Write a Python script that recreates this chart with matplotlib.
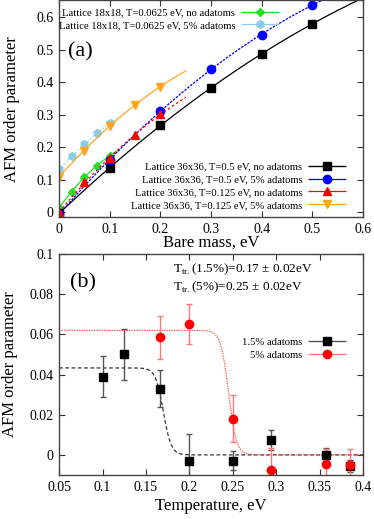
import numpy as np
import matplotlib
matplotlib.use('Agg')
from matplotlib import pyplot as plt
from matplotlib.container import ErrorbarContainer
from matplotlib.legend_handler import HandlerErrorbar

plt.rcParams['font.family'] = ['Liberation Serif', 'DejaVu Serif']
plt.rcParams['mathtext.fontset'] = 'custom'
plt.rcParams['mathtext.rm'] = 'Liberation Serif'

# ---- panel (a) data : AFM order parameter vs bare mass
m_18 = [0.0, 0.025, 0.05, 0.075, 0.1]
afm_18_clean = [0.015, 0.063, 0.110, 0.143, 0.175]
afm_18_ad5 = [0.133, 0.172, 0.210, 0.243, 0.275]

m_36_hot = [0.0, 0.1, 0.2, 0.3, 0.4, 0.5]
afm_36_hot_clean = [-0.003, 0.137, 0.268, 0.383, 0.488, 0.580]
afm_36_hot_ad5 = [-0.005, 0.161, 0.313, 0.440, 0.547, 0.638]

m_36_cold = [0.0, 0.05, 0.1, 0.15, 0.2]
afm_36_cold_clean = [0.0, 0.093, 0.168, 0.238, 0.302]
afm_36_cold_ad5 = [0.110, 0.190, 0.267, 0.331, 0.387]

# ---- panel (b) data : AFM order parameter vs temperature
T_15 = [0.1, 0.125, 0.1667, 0.2, 0.25, 0.2941, 0.3571, 0.3846]
afm_15 = [0.039, 0.050, 0.033, -0.003, -0.0028, 0.0075, 0.0, -0.0055]
err_15 = [0.010, 0.0125, 0.0093, 0.0135, 0.0046, 0.005, 0.0035, 0.003]

T_5 = [0.1667, 0.2, 0.25, 0.2941, 0.3571, 0.3846]
afm_5 = [0.0585, 0.0652, 0.018, -0.0075, -0.0043, -0.0048]
err_5 = [0.0107, 0.010, 0.0118, 0.011, 0.007, 0.0076]

# step-like fits  A / (1 + exp((T - Ttr)/w))
fit_15 = (0.0433, 0.170, 0.0045)
fit_5 = (0.0620, 0.245, 0.0045)

fig = plt.figure(figsize=(3.74, 5.19), dpi=100)
ax1 = fig.add_axes([0.158, 0.5813, 0.813, 0.418])
ax2 = fig.add_axes([0.158, 0.0848, 0.813, 0.4258])

hmap = {ErrorbarContainer: HandlerErrorbar(xerr_size=1.75)}
legkw = dict(frameon=False, markerfirst=False, fontsize=7.7, handlelength=3.4,
             handletextpad=0.6, labelspacing=0.3, borderpad=0.2, handler_map=hmap)


def series(ax, x, y, xmax, color, marker, ms, ls, deg=2):
    p = np.polyfit(x, y, deg)
    xx = np.linspace(0, xmax, 200)
    ax.plot(xx, np.polyval(p, xx), color=color, ls=ls, lw=0.9)
    ax.plot(x, y, ls='none', marker=marker, ms=ms, color=color)
    h = ax.errorbar([], [], xerr=[], color=color, ls=ls, lw=0.9,
                    marker=marker, ms=ms, capsize=2, elinewidth=0.8)
    return h


h1 = series(ax1, m_18, afm_18_clean, 0.115, '#22e022', 'D', 4.2, '-')
h2 = series(ax1, m_18, afm_18_ad5, 0.115, '#87ceeb', 'h', 5.5, ':')
h3 = series(ax1, m_36_hot, afm_36_hot_clean, 0.62, 'black', 's', 5.5, '-')
h4 = series(ax1, m_36_hot, afm_36_hot_ad5, 0.62, '#0000ff', 'o', 6, (0, (2, 1)))
h5 = series(ax1, m_36_cold, afm_36_cold_clean, 0.25, '#ff0000', '^', 5.5, (0, (2, 2)))
h6 = series(ax1, m_36_cold, afm_36_cold_ad5, 0.25, '#ffa520', 'v', 5.5, '-')

leg1 = ax1.legend([h1, h2], ['Lattice 18x18, T=0.0625 eV, no adatoms',
                             'Lattice 18x18, T=0.0625 eV, 5% adatoms'],
                  loc='upper right', bbox_to_anchor=(0.745, 1.0), **legkw)
ax1.add_artist(leg1)
ax1.legend([h3, h4, h5, h6], ['Lattice 36x36, T=0.5 eV, no adatoms',
                              'Lattice 36x36, T=0.5 eV, 5% adatoms',
                              'Lattice 36x36, T=0.125 eV, no adatoms',
                              'Lattice 36x36, T=0.125 eV, 5% adatoms'],
           loc='lower right', bbox_to_anchor=(0.965, 0.0), **legkw)

ax1.set_xlim(0, 0.6)
ax1.set_ylim(-0.015, 0.652)
ax1.set_xticks(np.arange(0, 0.61, 0.1))
ax1.set_xticklabels(['0', '0.1', '0.2', '0.3', '0.4', '0.5', '0.6'])
ax1.set_yticks(np.arange(0, 0.61, 0.1))
ax1.set_yticklabels(['0', '0.1', '0.2', '0.3', '0.4', '0.5', '0.6'])
ax1.set_xlabel('Bare mass, eV', fontsize=12, labelpad=-1)
ax1.set_ylabel('AFM order parameter', fontsize=12)
ax1.yaxis.set_label_coords(-0.13, 0.5)
ax1.text(0.03, 0.74, '(a)', transform=ax1.transAxes, fontsize=16)

# ---- panel (b)
TT = np.linspace(0.05, 0.4, 400)
for (A, Ttr, w), c, ls in [(fit_15, '#333333', (0, (3, 2))), (fit_5, '#ff4444', (0, (1, 1)))]:
    ax2.plot(TT, A / (1 + np.exp((TT - Ttr) / w)), color=c, ls=ls, lw=0.9)

ax2.errorbar(T_15, afm_15, yerr=err_15, ls='none', marker='s', ms=5.5,
             color='black', ecolor='#555555', elinewidth=1, capsize=2)
ax2.errorbar(T_5, afm_5, yerr=err_5, ls='none', marker='o', ms=6,
             color='#ff0000', ecolor='#ff7777', elinewidth=1, capsize=2)
g1 = ax2.errorbar([], [], xerr=[], ls='none', marker='s', ms=5.5, color='black',
                  ecolor='#555555', elinewidth=1, capsize=2)
g2 = ax2.errorbar([], [], xerr=[], ls='none', marker='o', ms=6, color='#ff0000',
                  ecolor='#ff7777', elinewidth=1, capsize=2)
ax2.legend([g1, g2], ['1.5% adatoms', '5% adatoms'], loc='upper right',
           bbox_to_anchor=(0.965, 0.655), **legkw)

ax2.set_xlim(0.05, 0.4)
ax2.set_ylim(-0.01, 0.1)
ax2.set_xticks(np.arange(0.05, 0.401, 0.05))
ax2.set_xticklabels(['0.05', '0.1', '0.15', '0.2', '0.25', '0.3', '0.35', '0.4'])
ax2.set_yticks(np.arange(0, 0.101, 0.02))
ax2.set_yticklabels(['0', '0.02', '0.04', '0.06', '0.08', '0.1'])
ax2.set_xlabel('Temperature, eV', fontsize=12, labelpad=3)
ax2.set_ylabel('AFM order parameter', fontsize=12)
ax2.yaxis.set_label_coords(-0.135, 0.5)
ax2.text(0.035, 0.85, '(b)', transform=ax2.transAxes, fontsize=16)
ax2.text(0.374, 0.918, r'T$_{\rm tr.}$(1.5%)=0.17 $\pm$ 0.02eV', transform=ax2.transAxes, fontsize=9.5)
ax2.text(0.374, 0.837, r'T$_{\rm tr.}$(5%)=0.25 $\pm$ 0.02eV', transform=ax2.transAxes, fontsize=9.5)

for ax in (ax1, ax2):
    ax.tick_params(direction='in', top=True, right=True, length=4, width=0.8,
                   labelsize=10, pad=4, color='#333333')
    for s in ax.spines.values():
        s.set_linewidth(1.0)
        s.set_color('#444444')

fig.savefig('out.png', dpi=100)
